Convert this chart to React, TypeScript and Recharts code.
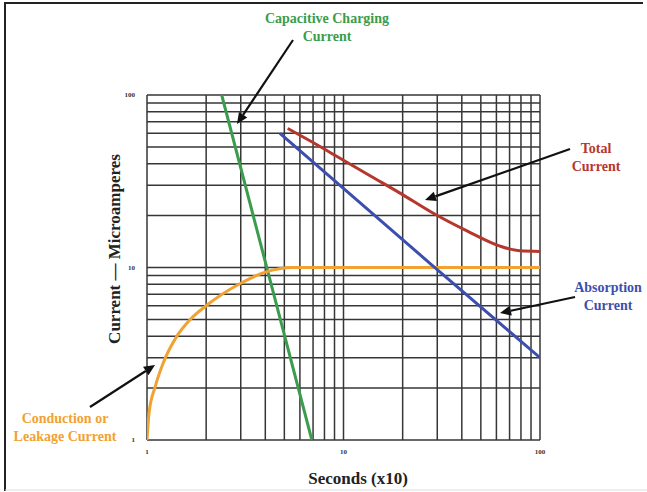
import { LineChart, Line, XAxis, YAxis, ReferenceLine } from 'recharts';

// log paper: every 1..9 per decade gets a rule, only decades get labels
const gridTicks = [1, 2, 3, 4, 5, 6, 7, 8, 9, 10, 20, 30, 40, 50, 60, 70, 80, 90, 100];
const axisTicks = [1, 10, 100];

// seconds (x10) vs microamperes
const chargingX = [2.4, 6.9];
const chargingY = [100, 1];

const leakageX = [1, 1.024, 1.1, 1.21, 1.42, 1.65, 2, 3, 4, 5.5, 10, 100];
const leakageY = [1, 1.43, 2.03, 2.8, 4, 4.96, 6, 8.1, 9.4, 10, 10, 10];

const absorptionX = [4.75, 28, 100];
const absorptionY = [60, 10.4, 3];

const totalX = [5.2, 7, 9.6, 14, 19.4, 28.5, 42.5, 62.6, 79, 100];
const totalY = [64, 53, 43, 33.5, 27, 20.7, 16.3, 13.3, 12.5, 12.4];

const pts = (xs: number[], ys: number[]) => xs.map((x, i) => ({ x, y: ys[i] }));

const SERIF = '"Liberation Serif", "DejaVu Serif", serif';
const GRID = '#363636';
const GREEN = '#3a9c4c';
const ORANGE = '#f0a232';
const BLUE = '#3d4fae';
const RED = '#b5372e';

const tickStyle = { fontSize: 7, fontFamily: SERIF, fontWeight: 700, fill: '#333' };

function Arrow({ x1, y1, x2, y2 }: { x1: number; y1: number; x2: number; y2: number }) {
  const a = Math.atan2(y2 - y1, x2 - x1);
  const len = 11, w = 5;
  const bx = x2 - len * Math.cos(a), by = y2 - len * Math.sin(a);
  const px = -Math.sin(a) * w, py = Math.cos(a) * w;
  return (
    <g>
      <line x1={x1} y1={y1} x2={bx} y2={by} stroke="#111" strokeWidth={2.2} />
      <polygon points={`${x2},${y2} ${bx + px},${by + py} ${bx - px},${by - py}`} fill="#111" />
    </g>
  );
}

function Note({ x, y, color, lines }: { x: number; y: number; color: string; lines: string[] }) {
  return (
    <text x={x} y={y} fill={color} textAnchor="middle" fontWeight={700} fontSize={14} style={{ fontFamily: SERIF }}>
      {lines.map((s, i) => (
        <tspan key={s} x={x} dy={i === 0 ? 0 : 18}>{s}</tspan>
      ))}
    </text>
  );
}

function Notes() {
  return (
    <svg width={647} height={492} style={{ position: 'absolute', left: 0, top: 0, pointerEvents: 'none' }}>
      {/* frame */}
      <line x1={4} y1={3} x2={643} y2={3} stroke="#222" strokeWidth={2} />
      <line x1={5} y1={2} x2={5} y2={491} stroke="#222" strokeWidth={2} />
      <line x1={5} y1={490} x2={647} y2={490} stroke="#ddd" strokeWidth={1} />

      <Note x={327} y={23} color={GREEN} lines={['Capacitive Charging', 'Current']} />
      <Arrow x1={293} y1={40} x2={237} y2={124} />

      <Note x={596} y={153} color={RED} lines={['Total', 'Current']} />
      <Arrow x1={570} y1={149} x2={425} y2={200} />

      <Note x={608} y={292} color={BLUE} lines={['Absorption', 'Current']} />
      <Arrow x1={575} y1={297} x2={500} y2={313} />

      <Note x={65} y={423} color={ORANGE} lines={['Conduction or', 'Leakage Current']} />
      <Arrow x1={90} y1={407} x2={155} y2={365} />

      <text fontWeight={700} fontSize={17} textAnchor="middle" fill="#222" x={358} y={484} style={{ fontFamily: SERIF }}>
        Seconds (x10)
      </text>
      <text
        fontWeight={700} fontSize={17} textAnchor="middle" fill="#222" style={{ fontFamily: SERIF }}
        transform="translate(120 249) rotate(-90)"
      >
        Current — Microamperes
      </text>
    </svg>
  );
}

export default function App() {
  return (
    <div style={{ position: 'absolute', left: 0, top: 0, width: 647, height: 492, background: '#fff' }}>
      <LineChart width={647} height={492} margin={{ top: 95, right: 107, bottom: 32, left: 127 }}>
        <XAxis
          type="number" dataKey="x" scale="log" domain={[1, 100]} ticks={axisTicks} allowDataOverflow
          axisLine={false} tickLine={false} tickSize={0} tickMargin={9} height={20} tick={tickStyle}
        />
        <YAxis
          type="number" dataKey="y" scale="log" domain={[1, 100]} ticks={axisTicks} allowDataOverflow
          axisLine={false} tickLine={false} tickSize={0} tickMargin={12} width={20} tick={tickStyle}
        />
        {gridTicks.map((v) => (
          <ReferenceLine key={`v${v}`} x={v} stroke={GRID} strokeWidth={1.5} />
        ))}
        {gridTicks.map((v) => (
          <ReferenceLine key={`h${v}`} y={v} stroke={GRID} strokeWidth={1.5} />
        ))}
        <Line data={pts(chargingX, chargingY)} dataKey="y" stroke={GREEN} strokeWidth={3} dot={false} isAnimationActive={false} />
        <Line data={pts(leakageX, leakageY)} dataKey="y" type="monotone" stroke={ORANGE} strokeWidth={3} dot={false} isAnimationActive={false} />
        <Line data={pts(absorptionX, absorptionY)} dataKey="y" stroke={BLUE} strokeWidth={3} dot={false} isAnimationActive={false} />
        <Line data={pts(totalX, totalY)} dataKey="y" type="monotone" stroke={RED} strokeWidth={3} dot={false} isAnimationActive={false} />
      </LineChart>
      <Notes />
    </div>
  );
}
